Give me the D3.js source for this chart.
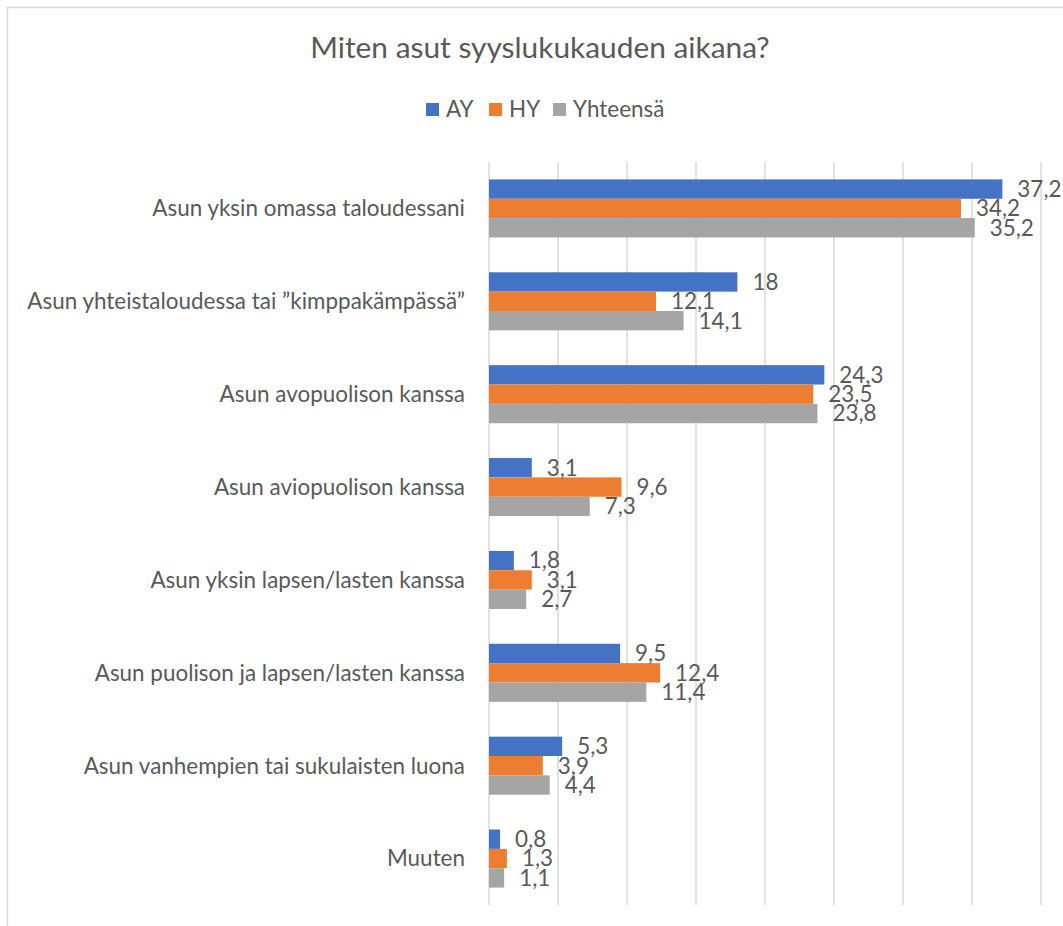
<!DOCTYPE html>
<html>
<head>
<meta charset="utf-8">
<script src="https://cdn.jsdelivr.net/npm/d3@7"></script>
<style>
  body { margin: 0; background: #fff; }
  text { font-family: Lato, "Open Sans", sans-serif; fill: #595959; }
</style>
</head>
<body>
<div id="chart"></div>
<script>
// data
var categories = [
  "Asun yksin omassa taloudessani",
  "Asun yhteistaloudessa tai \u201dkimppakämpässä\u201d",
  "Asun avopuolison kanssa",
  "Asun aviopuolison kanssa",
  "Asun yksin lapsen/lasten kanssa",
  "Asun puolison ja lapsen/lasten kanssa",
  "Asun vanhempien tai sukulaisten luona",
  "Muuten"
];
var seriesNames = ["AY", "HY", "Yhteensä"];
var ay = [37.2, 18, 24.3, 3.1, 1.8, 9.5, 5.3, 0.8];
var hy = [34.2, 12.1, 23.5, 9.6, 3.1, 12.4, 3.9, 1.3];
var total = [35.2, 14.1, 23.8, 7.3, 2.7, 11.4, 4.4, 1.1];
var colors = ["#4472C4", "#ED7D31", "#A5A5A5"];
var ticks = [0, 5, 10, 15, 20, 25, 30, 35, 40];

var W = 1063, H = 926;
var plotL = 489, plotR = 1041, plotT = 162, plotB = 905;

var svg = d3.select("#chart").append("svg").attr("width", W).attr("height", H);

// frame
svg.append("rect").attr("x", 7.5).attr("y", 7.5).attr("width", W + 20).attr("height", H + 20)
  .attr("fill", "none").attr("stroke", "#d9d9d9").attr("stroke-width", 1.5);

// font size fitting, the chart font is narrower than what we have
var probe = svg.append("text").style("font-size", "20px").text(categories[1]);
var fs = 20 * 438 / probe.node().getComputedTextLength();
probe.remove();

var x = d3.scaleLinear().domain([0, 40]).range([plotL, plotR]);
var y0 = d3.scaleBand().domain(d3.range(categories.length)).range([plotT, plotB]).paddingInner(0.375).paddingOuter(0.1875);
var y1 = d3.scaleBand().domain(d3.range(3)).range([0, y0.bandwidth()]);

// grid
svg.append("g").selectAll("line").data(ticks).join("line")
  .attr("x1", d => x(d)).attr("x2", d => x(d))
  .attr("y1", plotT).attr("y2", plotB)
  .attr("stroke", "#d9d9d9").attr("stroke-width", 1.5);

var series = [ay, hy, total];
var groups = svg.append("g").selectAll("g").data(categories).join("g")
  .attr("transform", (d, i) => "translate(0," + y0(i) + ")");

groups.selectAll("rect").data((d, i) => series.map((s, k) => ({k: k, v: s[i]}))).join("rect")
  .attr("x", x(0)).attr("y", d => y1(d.k))
  .attr("width", d => x(d.v) - x(0)).attr("height", y1.bandwidth())
  .attr("fill", d => colors[d.k]);

groups.selectAll("text.val").data((d, i) => series.map((s, k) => ({k: k, v: s[i]}))).join("text")
  .attr("class", "val")
  .attr("x", d => x(d.v) + 15).attr("y", d => y1(d.k) + y1.bandwidth() / 2)
  .attr("dy", "0.35em")
  .style("font-size", fs + "px")
  .text(d => String(d.v).replace(".", ","));

// category labels
svg.append("g").selectAll("text").data(categories).join("text")
  .attr("x", 465).attr("y", (d, i) => y0(i) + y0.bandwidth() / 2)
  .attr("dy", "0.35em").attr("text-anchor", "end")
  .style("font-size", fs + "px")
  .text(d => d);

// title
svg.append("text").attr("x", 540).attr("y", 58).attr("text-anchor", "middle")
  .style("font-size", (fs * 1.33) + "px").text("Miten asut syyslukukauden aikana?");

// legend
var legX = [426, 489, 553];
var leg = svg.append("g").selectAll("g").data(seriesNames).join("g")
  .attr("transform", (d, i) => "translate(" + legX[i] + ",103)");
leg.append("rect").attr("width", 13).attr("height", 13).attr("fill", (d, i) => colors[i]);
leg.append("text").attr("x", 20).attr("y", 6.5).attr("dy", "0.35em")
  .style("font-size", fs + "px").text(d => d);
</script>
</body>
</html>
